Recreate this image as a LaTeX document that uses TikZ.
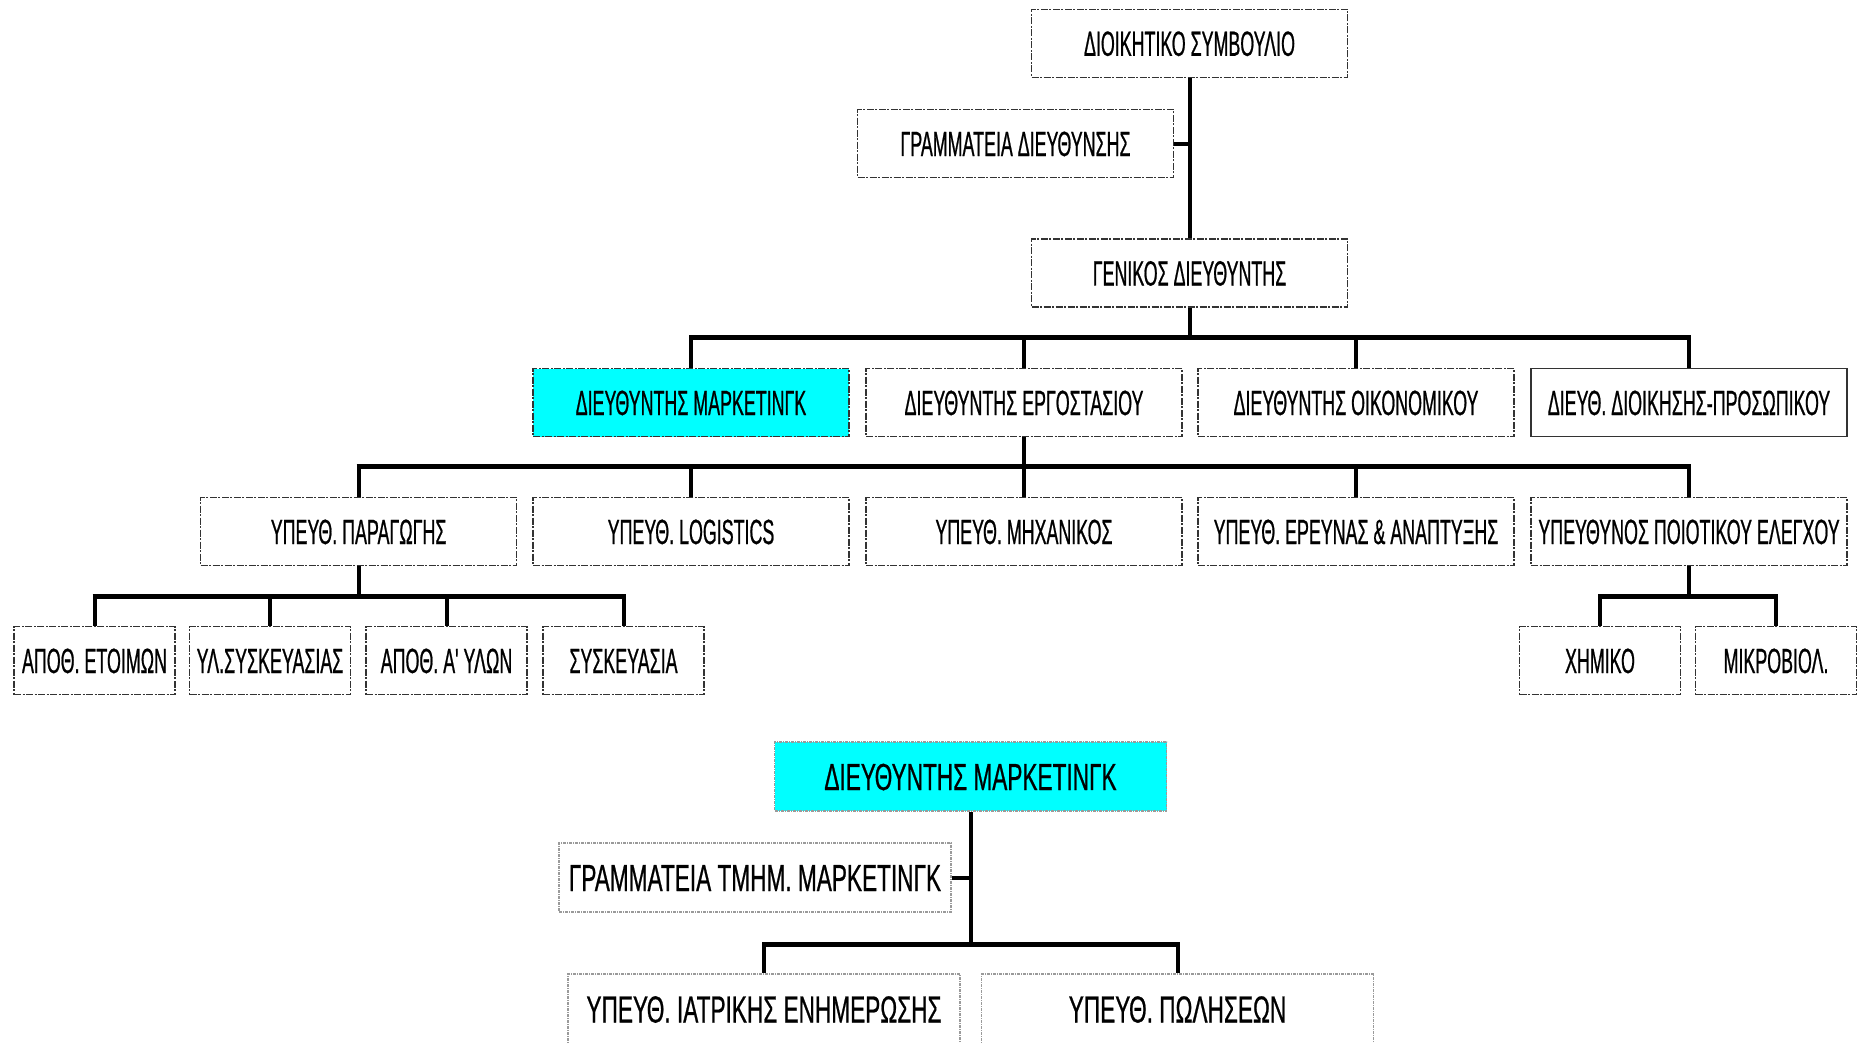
\documentclass[tikz,border=0pt]{standalone}
\usepackage{fontspec}
\newfontfamily\narrowA[FakeStretch=0.51,FakeBold=0.6]{Liberation Sans}
\newfontfamily\narrowB[FakeStretch=0.60,FakeBold=0.6]{Liberation Sans}
\definecolor{bd}{HTML}{333333}
\definecolor{bdl}{HTML}{9A9A9A}
\definecolor{cy}{HTML}{00FFFF}
\tikzset{
  box/.style={draw=bd, line width=1.3pt, dash pattern=on 7pt off 1.5pt on 2pt off 1.5pt,
    inner sep=0pt, minimum height=68pt, minimum width=316pt, text height=25pt, text depth=0pt,
    font=\narrowA\fontsize{35}{40}\selectfont},
  smallbox/.style={box, minimum width=161pt},
  solidbox/.style={box, solid},
  lbox/.style={draw=bdl, line width=1.1pt, dash pattern=on 3pt off 1pt on 1pt off 1pt,
    inner sep=0pt, minimum height=69pt, minimum width=392pt, text height=27pt, text depth=0pt,
    font=\narrowB\fontsize{37.7}{42}\selectfont},
  hl/.style={fill=cy},
  conn/.style={line width=4pt, black},
  busline/.style={line width=5pt, black, shorten <=-2pt, shorten >=-2pt},
}
\begin{document}
\begin{tikzpicture}[x=1pt, y=-1pt]
\useasboundingbox (0,0) rectangle (1862,1042);
% upper chart
\node[box] (board) at (1189.5,43.3) {ΔΙΟΙΚΗΤΙΚΟ ΣΥΜΒΟΥΛΙΟ};
\node[box] (sec) at (1015.5,143.5) {ΓΡΑΜΜΑΤΕΙΑ ΔΙΕΥΘΥΝΣΗΣ};
\node[box] (gen) at (1189.5,273) {ΓΕΝΙΚΟΣ ΔΙΕΥΘΥΝΤΗΣ};
\node[box,hl] (mkt) at (691,402.5) {ΔΙΕΥΘΥΝΤΗΣ ΜΑΡΚΕΤΙΝΓΚ};
\node[box] (erg) at (1024,402.5) {ΔΙΕΥΘΥΝΤΗΣ ΕΡΓΟΣΤΑΣΙΟΥ};
\node[box] (oik) at (1356,402.5) {ΔΙΕΥΘΥΝΤΗΣ ΟΙΚΟΝΟΜΙΚΟΥ};
\node[solidbox] (dio) at (1689,402.5) {ΔΙΕΥΘ. ΔΙΟΙΚΗΣΗΣ-ΠΡΟΣΩΠΙΚΟΥ};
\node[box] (par) at (358.6,531.5) {ΥΠΕΥΘ. ΠΑΡΑΓΩΓΗΣ};
\node[box] (log) at (691,531.5) {ΥΠΕΥΘ. LOGISTICS};
\node[box] (mix) at (1024,531.5) {ΥΠΕΥΘ. ΜΗΧΑΝΙΚΟΣ};
\node[box] (ere) at (1356,531.5) {ΥΠΕΥΘ. ΕΡΕΥΝΑΣ \& ΑΝΑΠΤΥΞΗΣ};
\node[box] (poi) at (1689,531.5) {ΥΠΕΥΘΥΝΟΣ ΠΟΙΟΤΙΚΟΥ ΕΛΕΓΧΟΥ};
\node[smallbox] (ape) at (94.5,660.5) {ΑΠΟΘ. ΕΤΟΙΜΩΝ};
\node[smallbox] (ysk) at (270,660.5) {ΥΛ.ΣΥΣΚΕΥΑΣΙΑΣ};
\node[smallbox] (apy) at (446.5,660.5) {ΑΠΟΘ. Α' ΥΛΩΝ};
\node[smallbox] (sys) at (623.5,660.5) {ΣΥΣΚΕΥΑΣΙΑ};
\node[smallbox] (xim) at (1600,660.5) {ΧΗΜΙΚΟ};
\node[smallbox] (mik) at (1776,660.5) {ΜΙΚΡΟΒΙΟΛ.};
% lower chart
\node[lbox,hl] (mkt2) at (970.5,776.5) {ΔΙΕΥΘΥΝΤΗΣ ΜΑΡΚΕΤΙΝΓΚ};
\node[lbox] (sec2) at (755,877.5) {ΓΡΑΜΜΑΤΕΙΑ ΤΜΗΜ. ΜΑΡΚΕΤΙΝΓΚ};
\node[lbox, minimum height=70pt] (iat) at (764,1009) {ΥΠΕΥΘ. ΙΑΤΡΙΚΗΣ ΕΝΗΜΕΡΩΣΗΣ};
\node[lbox, minimum height=70pt] (pol) at (1177.5,1009) {ΥΠΕΥΘ. ΠΩΛΗΣΕΩΝ};
% bus coordinates
\coordinate (b1) at (1189.5,337);
\coordinate (b2) at (1024,466.7);
\coordinate (b3) at (358.6,596);
\coordinate (b4) at (1689,596);
\coordinate (b5) at (970.5,944);
% connectors upper
\draw[conn] (board.south) -- (gen.north);
\draw[conn] (sec.east) -- (sec.east -| board.south);
\draw[conn] (gen.south) -- (b1);
\draw[busline] (mkt.north |- b1) -- (dio.north |- b1);
\foreach \n in {mkt,erg,oik,dio} \draw[conn] (\n.north |- b1) -- (\n.north);
\draw[conn] (erg.south) -- (b2);
\draw[busline] (par.north |- b2) -- (poi.north |- b2);
\foreach \n in {par,log,mix,ere,poi} \draw[conn] (\n.north |- b2) -- (\n.north);
\draw[conn] (par.south) -- (b3);
\draw[busline] (ape.north |- b3) -- (sys.north |- b3);
\foreach \n in {ape,ysk,apy,sys} \draw[conn] (\n.north |- b3) -- (\n.north);
\draw[conn] (poi.south) -- (b4);
\draw[busline] (xim.north |- b4) -- (mik.north |- b4);
\foreach \n in {xim,mik} \draw[conn] (\n.north |- b4) -- (\n.north);
% connectors lower
\draw[conn] (mkt2.south) -- (b5);
\draw[conn] (sec2.east) -- (sec2.east -| mkt2.south);
\draw[busline] (iat.north |- b5) -- (pol.north |- b5);
\foreach \n in {iat,pol} \draw[conn] (\n.north |- b5) -- (\n.north);
\end{tikzpicture}
\end{document}
